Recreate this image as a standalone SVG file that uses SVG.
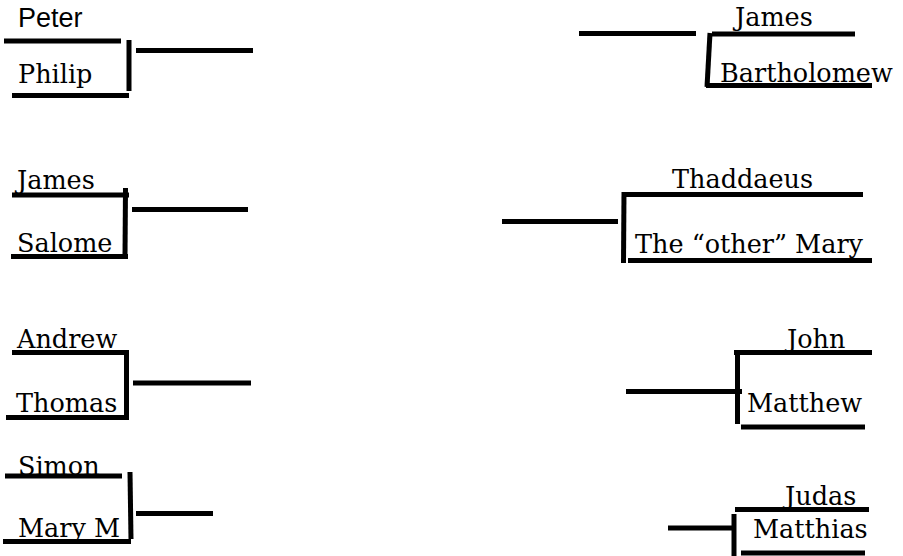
<svg xmlns="http://www.w3.org/2000/svg" width="903" height="556" viewBox="0 0 903 556">
<style>
.n{font-family:"DejaVu Serif","Liberation Serif",serif;font-size:25.5px;fill:#000}
.s{font-family:"Liberation Sans",Arial,sans-serif;font-size:27px;fill:#000}
line{stroke:#000;stroke-width:5;stroke-linecap:butt}
</style>
<rect width="903" height="556" fill="#fff"/>
<g id="peter"><text class="s" x="18" y="27">Peter</text><line x1="4" y1="41" x2="121" y2="41"/></g>
<g id="philip"><text class="n" x="18" y="83">Philip</text><line x1="12" y1="95.5" x2="129" y2="95.5"/></g>
<g id="james-l"><text class="n" x="17" y="189">James</text><line x1="12" y1="195" x2="129" y2="195"/></g>
<g id="salome"><text class="n" x="17" y="252">Salome</text><line x1="11" y1="256.5" x2="128" y2="256.5"/></g>
<g id="andrew"><text class="n" x="17" y="348">Andrew</text><line x1="12" y1="352.5" x2="129" y2="352.5"/></g>
<g id="thomas"><text class="n" x="16" y="412">Thomas</text><line x1="6" y1="417.5" x2="129" y2="417.5"/></g>
<g id="simon"><text class="n" x="18" y="475">Simon</text><line x1="5" y1="476" x2="122" y2="476"/></g>
<g id="marym"><text class="n" x="18" y="537">Mary M</text><line x1="3" y1="541.5" x2="131" y2="541.5"/></g>
<g id="james-r"><text class="n" x="735" y="26">James</text><line x1="712" y1="34" x2="855" y2="34"/></g>
<g id="bartholomew"><text class="n" x="720" y="82">Bartholomew</text><line x1="706" y1="85.5" x2="872" y2="85.5"/></g>
<g id="thaddaeus"><text class="n" x="672" y="188">Thaddaeus</text><line x1="623" y1="194.5" x2="863" y2="194.5"/></g>
<g id="othermary"><text class="n" x="635" y="253">The “other” Mary</text><line x1="628" y1="260.5" x2="872" y2="260.5"/></g>
<g id="john"><text class="n" x="787" y="348">John</text><line x1="734" y1="352.5" x2="872" y2="352.5"/></g>
<g id="matthew"><text class="n" x="747" y="412">Matthew</text><line x1="741" y1="427" x2="865" y2="427"/></g>
<g id="judas"><text class="n" x="785" y="505">Judas</text><line x1="735" y1="509.5" x2="869" y2="509.5"/></g>
<g id="matthias"><text class="n" x="753" y="538">Matthias</text><line x1="741" y1="553" x2="865" y2="553"/></g>
<g id="connectors">
<line x1="129" y1="40" x2="129" y2="91"/><line x1="136" y1="50.5" x2="253" y2="50.5"/>
<line x1="125.5" y1="188" x2="125" y2="257"/><line x1="132" y1="209.5" x2="248" y2="209.5"/>
<line x1="126.5" y1="350" x2="126.5" y2="420"/><line x1="133" y1="383" x2="251" y2="383"/>
<line x1="130" y1="472" x2="131" y2="539"/><line x1="136" y1="513.5" x2="213" y2="513.5"/>
<line x1="710" y1="33" x2="707" y2="87"/><line x1="579" y1="33.5" x2="696" y2="33.5"/>
<line x1="624" y1="192" x2="623.5" y2="263"/><line x1="502" y1="221.5" x2="618" y2="221.5"/>
<line x1="737.5" y1="350" x2="737.5" y2="424"/><line x1="626" y1="391.5" x2="742" y2="391.5"/>
<line x1="734" y1="514" x2="734" y2="556"/><line x1="668" y1="528" x2="732" y2="528"/>
</g>
</svg>
